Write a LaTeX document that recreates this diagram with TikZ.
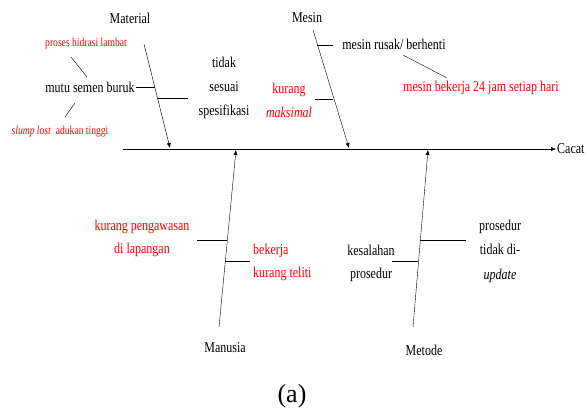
\documentclass[tikz,border=0pt]{standalone}
\usepackage{fontspec}
\setmainfont{Liberation Serif}[FakeStretch=0.8]
\newfontfamily\capfont{Liberation Serif}
\usetikzlibrary{arrows.meta}
\tikzset{
  lbl/.style={font=\fontsize{15}{24}\selectfont,align=center,inner sep=1pt},
  redlbl/.style={lbl,text=red},
  smalllbl/.style={font=\fontsize{12}{13}\selectfont,text=red,inner sep=1pt},
  bone/.style={-{Latex[length=5pt,width=4pt]}},
}
\begin{document}
\begin{tikzpicture}[x=1pt,y=-1pt]
\useasboundingbox (0,0) rectangle (585,413);
\coordinate (tail) at (123,149);
\node[lbl,anchor=west] (cacat) at (556,149) {Cacat};
\draw[bone] (tail) -- (cacat.west);
\node[lbl] (material) at (130,18) {Material};
\node[lbl] (mesin) at (307,18) {Mesin};
\node[lbl] (manusia) at (225,348) {Manusia};
\node[lbl] (metode) at (424,350) {Metode};
\coordinate (mat0) at (144,44);
\coordinate (mat1) at (170,148);
\coordinate (mes0) at (313,30);
\coordinate (mes1) at (349,148);
\coordinate (man0) at (219,327);
\coordinate (man1) at (236,150);
\coordinate (met0) at (413,327);
\coordinate (met1) at (428,150);
\draw[bone] (mat0) -- (mat1);
\draw[bone] (mes0) -- (mes1);
\draw[bone] (man0) -- (man1);
\draw[bone] (met0) -- (met1);
\node[lbl] (mutu) at (90,87) {mutu semen buruk};
\node[smalllbl] (hidrasi) at (86,44) {proses hidrasi lambat};
\node[smalllbl] (slump) at (60,132) {\textit{slump lost}\ \ adukan tinggi};
\coordinate (h0) at (71,57);
\coordinate (h1) at (87,77);
\coordinate (s0) at (65,117);
\coordinate (s1) at (75,103);
\draw (h0) -- (h1);
\draw (s0) -- (s1);
\coordinate (mutuend) at (155,87);
\draw (mutu.east) -- (mutuend);
\node[lbl] (tidak) at (224,88) {tidak\\sesuai\\spesifikasi};
\coordinate (t0) at (158,98);
\coordinate (t1) at (188,98);
\draw (t0) -- (t1);
\node[lbl] (rusak) at (394,44) {mesin rusak/ berhenti};
\coordinate (r0) at (317,45);
\coordinate (r1) at (333,45);
\draw (r0) -- (r1);
\node[redlbl] (jam) at (481,88) {mesin bekerja 24 jam setiap hari};
\coordinate (j0) at (403,55);
\coordinate (j1) at (447,78);
\draw (j0) -- (j1);
\node[redlbl] (maks) at (289,100) {kurang\\\textit{maksimal}};
\coordinate (k0) at (315,99);
\coordinate (k1) at (333,99);
\draw (k0) -- (k1);
\node[redlbl,font=\fontsize{15}{23}\selectfont] (awas) at (142,238) {kurang pengawasan\\di lapangan};
\coordinate (a0) at (197,240);
\coordinate (a1) at (227,240);
\draw (a0) -- (a1);
\node[redlbl,font=\fontsize{15}{23}\selectfont,anchor=west,align=left] (teliti) at (252,262) {bekerja\\kurang teliti};
\coordinate (b0) at (225,261);
\coordinate (b1) at (250,261);
\draw (b0) -- (b1);
\node[lbl,font=\fontsize{15}{23}\selectfont] (salah) at (371,263) {kesalahan\\prosedur};
\coordinate (e0) at (392,261);
\coordinate (e1) at (418,261);
\draw (e0) -- (e1);
\node[lbl,font=\fontsize{15}{24.5}\selectfont] (prosedur) at (500,251) {prosedur\\tidak di-\\\textit{update}};
\coordinate (p0) at (420,240);
\coordinate (p1) at (466,240);
\draw (p0) -- (p1);
\node[lbl,font=\capfont\fontsize{26}{28}\selectfont] (cap) at (292,396) {(a)};
\end{tikzpicture}
\end{document}
